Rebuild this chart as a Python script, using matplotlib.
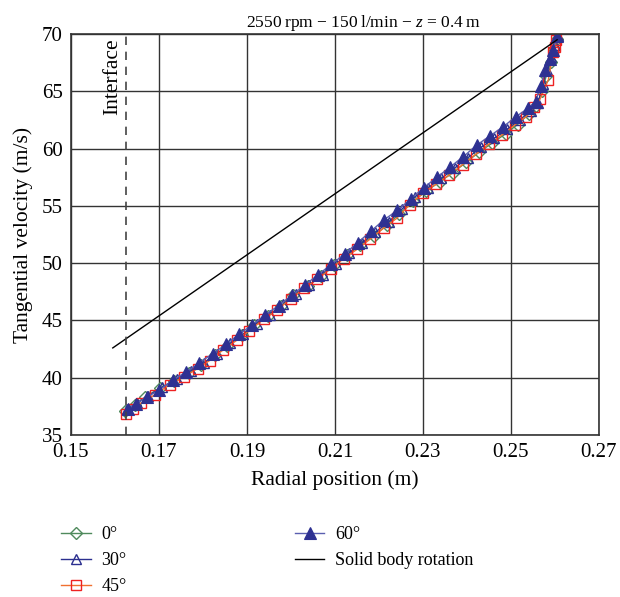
import matplotlib.pyplot as plt

plt.rcParams['font.family'] = ['Liberation Serif', 'DejaVu Serif']
plt.rcParams['mathtext.fontset'] = 'custom'
plt.rcParams['mathtext.it'] = 'Liberation Serif:italic'
plt.rcParams['mathtext.rm'] = 'Liberation Serif'

# radial position (m) and tangential velocity (m/s) for each angle
r_0 = [0.1622, 0.1645, 0.1668, 0.1702, 0.1735, 0.1768, 0.1796, 0.1828, 0.1855,
       0.1888, 0.1915, 0.1948, 0.1978, 0.2005, 0.2038, 0.2068, 0.2098, 0.2128,
       0.2158, 0.2188, 0.2218, 0.2246, 0.2278, 0.2308, 0.2338, 0.2368, 0.2398,
       0.2428, 0.2458, 0.2488, 0.2515, 0.2540, 0.2558, 0.2570, 0.2580, 0.2590,
       0.2598, 0.2604]
v_0 = [37.1, 37.6, 38.3, 39.1, 39.7, 40.4, 41.1, 42.0, 42.8,
       43.7, 44.6, 45.4, 46.3, 47.2, 48.0, 48.9, 49.8, 50.7,
       51.6, 52.4, 53.3, 54.3, 55.4, 56.3, 57.1, 57.9, 58.8,
       59.7, 60.5, 61.3, 62.1, 63.0, 63.7, 65.0, 66.3, 67.6,
       68.7, 69.6]

r_30 = [0.1628, 0.1650, 0.1675, 0.1708, 0.1740, 0.1772, 0.1802, 0.1832, 0.1862,
        0.1892, 0.1922, 0.1952, 0.1982, 0.2012, 0.2042, 0.2072, 0.2102, 0.2132,
        0.2162, 0.2192, 0.2222, 0.2252, 0.2282, 0.2312, 0.2342, 0.2372, 0.2402,
        0.2432, 0.2462, 0.2492, 0.2520, 0.2545, 0.2562, 0.2572, 0.2582, 0.2592,
        0.2600, 0.2606]
v_30 = [37.3, 37.8, 38.4, 39.2, 39.9, 40.6, 41.3, 42.1, 43.0,
        43.8, 44.7, 45.5, 46.4, 47.3, 48.1, 49.0, 49.9, 50.9,
        51.8, 52.7, 53.6, 54.7, 55.8, 56.6, 57.4, 58.3, 59.2,
        60.1, 60.9, 61.7, 62.5, 63.3, 64.0, 65.6, 66.9, 68.0,
        69.0, 69.8]

r_45 = [0.1625, 0.1640, 0.1660, 0.1690, 0.1725, 0.1758, 0.1788, 0.1815, 0.1845,
        0.1878, 0.1905, 0.1938, 0.1968, 0.2000, 0.2030, 0.2060, 0.2090, 0.2120,
        0.2150, 0.2180, 0.2212, 0.2240, 0.2270, 0.2300, 0.2330, 0.2360, 0.2390,
        0.2420, 0.2450, 0.2480, 0.2510, 0.2535, 0.2552, 0.2566, 0.2585, 0.2596,
        0.2600, 0.2603]
v_45 = [36.8, 37.3, 37.8, 38.5, 39.4, 40.1, 40.8, 41.5, 42.4,
        43.3, 44.1, 45.1, 45.9, 46.9, 47.8, 48.6, 49.5, 50.4,
        51.2, 52.1, 53.1, 53.9, 55.1, 56.1, 56.9, 57.7, 58.6,
        59.5, 60.4, 61.2, 62.1, 62.8, 63.6, 64.3, 66.0, 68.4,
        68.9, 69.5]

r_60 = [0.1630, 0.1648, 0.1672, 0.1700, 0.1732, 0.1762, 0.1792, 0.1822, 0.1852,
        0.1882, 0.1912, 0.1942, 0.1972, 0.2002, 0.2032, 0.2062, 0.2092, 0.2122,
        0.2152, 0.2182, 0.2212, 0.2242, 0.2272, 0.2302, 0.2332, 0.2362, 0.2392,
        0.2422, 0.2452, 0.2482, 0.2512, 0.2538, 0.2556, 0.2568, 0.2578, 0.2588,
        0.2596, 0.2605]
v_60 = [37.3, 37.7, 38.3, 38.9, 39.8, 40.5, 41.3, 42.1, 42.9,
        43.8, 44.6, 45.5, 46.3, 47.2, 48.1, 49.0, 49.9, 50.8,
        51.8, 52.8, 53.8, 54.6, 55.6, 56.6, 57.5, 58.4, 59.3,
        60.3, 61.1, 61.9, 62.8, 63.5, 64.1, 65.5, 66.9, 67.8,
        68.6, 69.8]

# solid body rotation line end points
r_solid = [0.1595, 0.2605]
v_solid = [42.6, 69.5]

interface_r = 0.1625

fig = plt.figure(figsize=(6.2, 5.97), dpi=100)
ax = fig.add_axes([0.1145, 0.2714, 0.8515, 0.6716])

ax.plot(r_0, v_0, '-', color='#4f8a5c', lw=1, marker='D', ms=6,
        mfc='none', mec='#4f8a5c', mew=1, label='0°')
ax.plot(r_30, v_30, '-', color='#2b2f8f', lw=1, marker='^', ms=7.5,
        mfc='none', mec='#2b2f8f', mew=1, label='30°')
ax.plot(r_45, v_45, '-', color='#f07030', lw=1, marker='s', ms=7.5,
        mfc='none', mec='#ee2222', mew=1, label='45°')
ax.plot(r_60, v_60, '-', color='#5a5fb0', lw=1, marker='^', ms=8.5,
        mfc='#2e3192', mec='#2e3192', mew=0.8, label='60°')
ax.plot(r_solid, v_solid, '-', color='black', lw=1, label='Solid body rotation')

ax.axvline(interface_r, color='#444444', lw=1.2, ls=(0, (5, 4)))
ax.text(interface_r - 0.0008, 69.6, 'Interface', rotation=90, ha='right', va='top',
        fontsize=15.5)

ax.set_xlim(0.15, 0.27)
ax.set_ylim(35, 70)
ax.set_xticks([0.15, 0.17, 0.19, 0.21, 0.23, 0.25, 0.27])
ax.set_xticklabels(['0.15', '0.17', '0.19', '0.21', '0.23', '0.25', '0.27'])
ax.set_yticks(range(35, 71, 5))
ax.grid(True, color='#333333', lw=1)
ax.set_axisbelow(True)
for s in ax.spines.values():
    s.set_color('#333333')
    s.set_linewidth(1.2)
ax.tick_params(length=0, labelsize=15, pad=6)

ax.set_xlabel('Radial position (m)', fontsize=15.5, labelpad=6)
ax.set_ylabel('Tangential velocity (m/s)', fontsize=15.5, labelpad=6)
ax.set_title('2550\u2009rpm \u2212 150\u2009l/min \u2212 $z$ = 0.4\u2009m', fontsize=12.5,
             pad=5, x=0.555)

ax.legend(loc='upper left', bbox_to_anchor=(-0.05, -0.1875), ncol=2, frameon=False,
          fontsize=13, handlelength=1.65, columnspacing=9.3, labelspacing=0.5,
          handletextpad=0.6)

plt.savefig('out.png', dpi=100)
